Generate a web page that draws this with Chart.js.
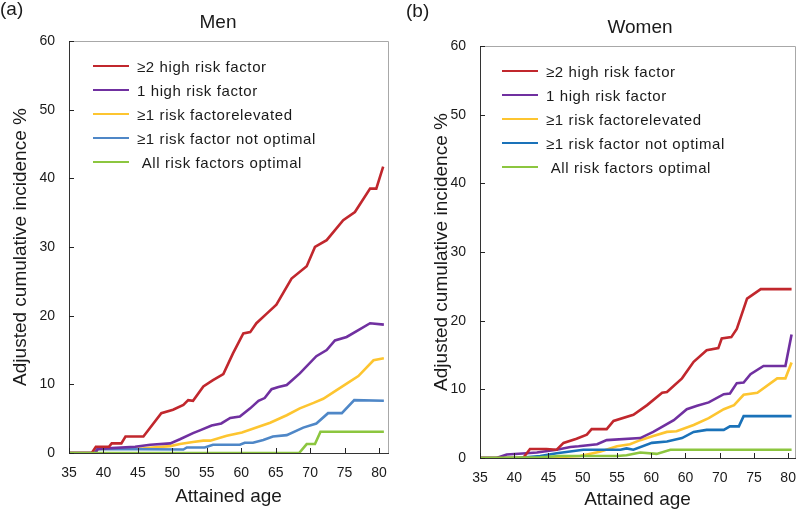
<!DOCTYPE html>
<html lang="en">
<head>
<meta charset="UTF-8">
<title>Adjusted cumulative incidence by risk factor group</title>
<script src="https://cdn.jsdelivr.net/npm/chart.js@4"></script>
<style>
  * { margin: 0; padding: 0; box-sizing: border-box; }
  body { width: 800px; height: 512px; background: #fff; font-family: 'Liberation Sans', Arial, sans-serif; color: #1a1a1a; position: relative; overflow: hidden; }
  .panel { position: absolute; top: 0; width: 400px; height: 512px; }
  .tag { position: absolute; font-size: 19px; }
  .title { position: absolute; font-size: 19px; transform: translateX(-50%); }
  .legend { position: absolute; font-size: 15px; letter-spacing: 0.6px; }
  .legend div { height: 24px; display: flex; align-items: center; }
  .legend span.sw { display: inline-block; width: 36px; height: 2.5px; margin-right: 8px; }
</style>
</head>
<body>
<div class="panel" style="left:0"><canvas id="men" width="400" height="512"></canvas></div>
<div class="panel" style="left:400px"><canvas id="women" width="400" height="512"></canvas></div>

<div class="tag" style="left:0;top:-2px">(a)</div>
<div class="tag" style="left:406px;top:0">(b)</div>
<div class="title" style="left:218px;top:11px">Men</div>
<div class="title" style="left:640px;top:16px">Women</div>
<div class="legend" id="legendMen" style="left:93px;top:54px"></div>
<div class="legend" id="legendWomen" style="left:502px;top:59px"></div>

<script>
// Series labels (legend order)
const seriesLabels = ['\u22652 high risk factor', '1 high risk factor', '\u22651 risk factorelevated', '\u22651 risk factor not optimal', '\u00a0All risk factors optimal'];

// Men (a)
const menHigh2X = [35, 38.3, 38.9, 40.8, 41.2, 42.6, 43.2, 45.8, 48.4, 50.1, 51.6, 52.3, 53.0, 54.5, 55.9, 57.4, 58.8, 60.3, 61.3, 62.2, 63.7, 65.1, 67.3, 69.5, 70.7, 72.4, 74.8, 76.5, 78.7, 79.6, 80.6];
const menHigh2Y = [0, 0, 0.9, 0.9, 1.4, 1.4, 2.4, 2.4, 5.8, 6.3, 7.0, 7.7, 7.6, 9.7, 10.6, 11.5, 14.5, 17.4, 17.6, 18.9, 20.3, 21.6, 25.4, 27.2, 30.0, 31.0, 33.9, 35.1, 38.5, 38.5, 41.7];
const menHigh1X = [35, 38.8, 39.2, 44.6, 46.8, 49.7, 51.1, 53.0, 54.0, 55.7, 57.1, 58.4, 59.8, 61.3, 62.5, 63.4, 64.4, 65.4, 66.6, 68.5, 70.9, 72.4, 73.6, 75.3, 77.0, 78.7, 80.7];
const menHigh1Y = [0, 0, 0.6, 0.9, 1.2, 1.4, 2.0, 2.9, 3.3, 4.0, 4.3, 5.1, 5.3, 6.5, 7.6, 8.0, 9.3, 9.6, 9.9, 11.6, 14.1, 15.0, 16.4, 16.9, 17.9, 18.9, 18.7];
const menElevX = [35, 38.8, 39.2, 45.8, 49.7, 51.1, 53.0, 54.5, 55.5, 57.9, 60.1, 62.2, 64.2, 66.6, 68.5, 70.5, 71.9, 73.9, 75.3, 77.0, 79.2, 80.7];
const menElevY = [0, 0, 0.6, 0.7, 1.0, 1.3, 1.6, 1.8, 1.8, 2.5, 3.0, 3.7, 4.4, 5.5, 6.5, 7.3, 7.9, 9.2, 10.1, 11.2, 13.5, 13.8];
const menNotOptX = [35, 38.7, 39.1, 51.6, 52.1, 54.7, 55.9, 59.8, 60.5, 61.7, 63.2, 64.6, 66.6, 69.0, 70.9, 72.6, 74.6, 76.4, 80.7];
const menNotOptY = [0, 0, 0.6, 0.5, 0.8, 0.8, 1.2, 1.2, 1.5, 1.5, 1.9, 2.4, 2.6, 3.7, 4.3, 5.8, 5.8, 7.7, 7.6];
const menOptX = [35, 68.4, 69.5, 70.7, 71.5, 80.7];
const menOptY = [0, 0, 1.3, 1.3, 3.1, 3.1];

// Women (b)
const womenHigh2X = [35, 41.3, 42.3, 44.7, 46.2, 47.2, 49.1, 50.6, 51.3, 53.5, 54.5, 57.4, 59.4, 61.6, 62.3, 64.5, 66.2, 68.1, 69.8, 70.3, 71.7, 72.5, 74.0, 76.0, 80.5];
const womenHigh2Y = [0, 0, 1.3, 1.3, 1.2, 2.2, 2.8, 3.4, 4.2, 4.2, 5.4, 6.3, 7.7, 9.5, 9.6, 11.6, 14.0, 15.7, 16.0, 17.4, 17.6, 18.8, 23.2, 24.6, 24.6];
const womenHigh1X = [35, 37.4, 38.9, 41.8, 43.3, 46.2, 48.2, 49.4, 52.1, 53.5, 58.4, 60.3, 63.3, 65.2, 66.7, 68.4, 70.6, 71.5, 72.5, 73.5, 74.5, 76.4, 79.6, 80.5];
const womenHigh1Y = [0, 0, 0.5, 0.7, 0.8, 1.2, 1.6, 1.7, 2.0, 2.6, 2.9, 3.8, 5.5, 7.1, 7.6, 8.1, 9.3, 9.4, 10.9, 11.0, 12.2, 13.4, 13.4, 18.0];
const womenElevX = [35, 44.0, 49.6, 52.5, 55.0, 56.9, 58.4, 60.3, 62.3, 63.7, 66.2, 68.4, 70.6, 72.1, 73.5, 75.5, 78.4, 79.6, 80.5];
const womenElevY = [0, 0, 0.3, 0.9, 1.7, 2.0, 2.6, 3.2, 3.8, 3.9, 4.8, 5.8, 7.1, 7.7, 9.2, 9.5, 11.6, 11.6, 13.9];
const womenNotOptX = [35, 40.4, 43.8, 46.2, 50.1, 55.5, 56.4, 57.4, 60.1, 62.3, 64.5, 66.2, 68.1, 70.6, 71.5, 72.8, 73.5, 80.5];
const womenNotOptY = [0, 0, 0.3, 0.7, 1.2, 1.2, 1.4, 1.2, 2.2, 2.4, 2.9, 3.8, 4.1, 4.1, 4.6, 4.6, 6.1, 6.1];
const womenOptX = [35, 43.8, 46.7, 55.0, 56.4, 58.4, 60.8, 62.8, 80.5];
const womenOptY = [0, 0.1, 0.3, 0.3, 0.4, 0.8, 0.6, 1.2, 1.2];

// X tick values and labels (panel b repeats "60" where 65 sits, as in the original)
const xTickValues = [35, 40, 45, 50, 55, 60, 65, 70, 75, 80];
const menXTickLabels = ['35', '40', '45', '50', '55', '60', '65', '70', '75', '80'];
const womenXTickLabels = ['35', '40', '45', '50', '55', '60', '60', '70', '75', '80'];

const red = '#c1272d', purple = '#7030a0', yellow = '#fdc530', green = '#8cc63f';
const menBlue = '#4f87c7', womenBlue = '#1a72b9';
const FONT = "'Liberation Sans', Arial, sans-serif";

const pts = (xs, ys) => xs.map((x, i) => ({ x, y: ys[i] }));

function buildLegend(id, colors) {
  const el = document.getElementById(id);
  el.innerHTML = seriesLabels.map((t, i) =>
    `<div><span class="sw" style="background:${colors[i]}"></span>${t}</div>`).join('');
}

// Chart frame: light top/right border and inward tick marks
const framePlugin = {
  id: 'frame',
  afterDraw(chart) {
    const { ctx, chartArea: a, scales } = chart;
    ctx.save();
    ctx.strokeStyle = '#a8a8a8';
    ctx.lineWidth = 1;
    ctx.beginPath();
    ctx.moveTo(a.left, a.top + 0.5);
    ctx.lineTo(a.right + 0.5, a.top + 0.5);
    ctx.lineTo(a.right + 0.5, a.bottom);
    ctx.stroke();
    ctx.strokeStyle = '#222';
    ctx.beginPath();
    scales.x.ticks.forEach(t => {
      const px = Math.round(scales.x.getPixelForValue(t.value)) + 0.5;
      ctx.moveTo(px, a.bottom);
      ctx.lineTo(px, a.bottom - 5);
    });
    scales.y.ticks.forEach(t => {
      const py = Math.round(scales.y.getPixelForValue(t.value)) + 0.5;
      ctx.moveTo(a.left, py);
      ctx.lineTo(a.left + 5, py);
    });
    ctx.stroke();
    ctx.restore();
  }
};

function makeChart(id, series, cfg) {
  const colors = [red, purple, yellow, cfg.blue, green];
  const drawOrder = [1, 2, 4, 3, 0];
  return new Chart(document.getElementById(id), {
    type: 'line',
    data: {
      datasets: series.map((s, i) => ({
        label: seriesLabels[i], data: s, borderColor: colors[i], borderWidth: 2.6,
        pointRadius: 0, tension: 0, fill: false, order: drawOrder[i]
      }))
    },
    options: {
      responsive: false,
      animation: false,
      layout: { padding: { top: cfg.top, right: cfg.right, left: 0, bottom: 0 } },
      plugins: { legend: { display: false }, tooltip: { enabled: false } },
      scales: {
        x: {
          type: 'linear', min: 35, max: cfg.xMax,
          afterBuildTicks: s => { s.ticks = xTickValues.map(v => ({ value: v })); },
          afterFit: s => { s.height = cfg.xAxisH; s.paddingLeft = 0; s.paddingRight = 0; },
          ticks: {
            padding: 12, color: '#1a1a1a', font: { family: FONT, size: 14 },
            callback: (v, i) => cfg.xLabels[i]
          },
          grid: { drawOnChartArea: false, drawTicks: false },
          border: { color: '#333', width: 1 },
          title: { display: true, text: 'Attained age', color: '#1a1a1a', font: { family: FONT, size: 19 }, padding: { top: 0, bottom: cfg.xTitlePad } }
        },
        y: {
          min: 0, max: 60,
          afterFit: s => { s.width = cfg.yAxisW; },
          ticks: { stepSize: 10, padding: 14, color: '#1a1a1a', font: { family: FONT, size: 14 } },
          grid: { drawOnChartArea: false, drawTicks: false },
          border: { color: '#333', width: 1 },
          title: { display: true, text: 'Adjusted cumulative incidence %', color: '#1a1a1a', font: { family: FONT, size: 19 }, padding: { top: cfg.yTitlePad, bottom: 0 } }
        }
      }
    },
    plugins: [framePlugin]
  });
}

makeChart('men', [
  pts(menHigh2X, menHigh2Y), pts(menHigh1X, menHigh1Y), pts(menElevX, menElevY),
  pts(menNotOptX, menNotOptY), pts(menOptX, menOptY)
], { blue: menBlue, top: 41, right: 12, xMax: 81.3, xAxisH: 59, yAxisW: 69, xTitlePad: 4, yTitlePad: 9, xLabels: menXTickLabels });

makeChart('women', [
  pts(womenHigh2X, womenHigh2Y), pts(womenHigh1X, womenHigh1Y), pts(womenElevX, womenElevY),
  pts(womenNotOptX, womenNotOptY), pts(womenOptX, womenOptY)
], { blue: womenBlue, top: 46, right: 5, xMax: 81.0, xAxisH: 54, yAxisW: 80, xTitlePad: 1, yTitlePad: 30, xLabels: womenXTickLabels });

buildLegend('legendMen', [red, purple, yellow, menBlue, green]);
buildLegend('legendWomen', [red, purple, yellow, womenBlue, green]);
</script>
</body>
</html>
